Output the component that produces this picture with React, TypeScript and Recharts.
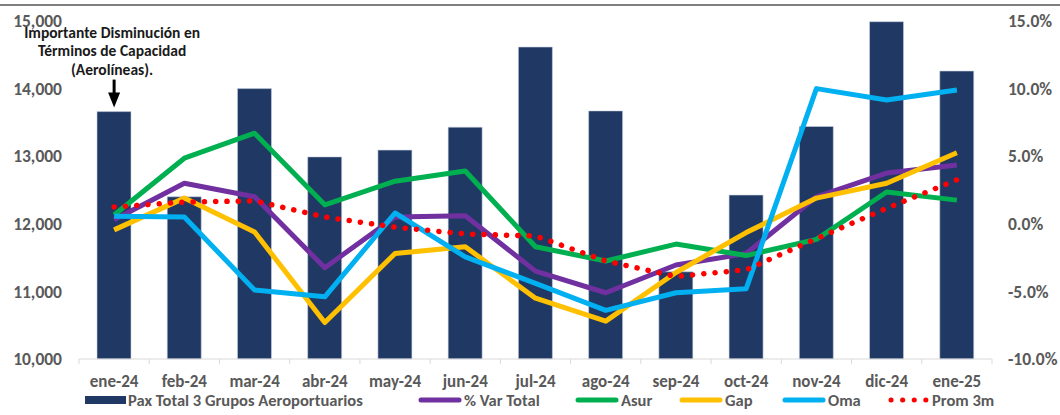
import React from "react";
import { ComposedChart, Bar, Line, XAxis, YAxis, Legend, ReferenceDot } from "recharts";

const months = ["ene-24", "feb-24", "mar-24", "abr-24", "may-24", "jun-24", "jul-24", "ago-24", "sep-24", "oct-24", "nov-24", "dic-24", "ene-25"];
const paxTotal = [13660, 12400, 14000, 12990, 13090, 13430, 14615, 13670, 11290, 12425, 13440, 14990, 14260];
const varTotal = [0.3, 3.0, 2.0, -3.25, 0.5, 0.6, -3.5, -5.1, -3.05, -2.2, 2.0, 3.75, 4.35];
const asur = [0.65, 4.85, 6.7, 1.4, 3.15, 3.9, -1.7, -2.75, -1.5, -2.35, -1.15, 2.35, 1.75];
const gap = [-0.45, 1.9, -0.6, -7.3, -2.2, -1.7, -5.5, -7.2, -3.6, -0.65, 1.9, 3.0, 5.25];
const oma = [0.55, 0.5, -4.9, -5.4, 0.8, -2.45, -4.4, -6.4, -5.1, -4.8, 10.0, 9.15, 9.9];
const prom3m = [1.25, 1.6, 1.7, 0.5, -0.25, -0.75, -0.9, -2.75, -3.9, -3.4, -1.1, 1.15, 3.25];

const leftTicks = [10000, 11000, 12000, 13000, 14000, 15000];
const rightTicks = [-10, -5, 0, 5, 10, 15];
const annotationLines = ["Importante Disminución en", "Términos de Capacidad", "(Aerolíneas)."];

const data = months.map((m, i) => ({
    month: m,
    pax: paxTotal[i],
    total: varTotal[i],
    asur: asur[i],
    gap: gap[i],
    oma: oma[i],
    prom: prom3m[i],
}));

const FONT = "Carlito, Calibri, 'Liberation Sans', Arial, sans-serif";
const AXIS_COLOR = "#595959";
const FS = 17.5;
const LEGEND_FS = 16.5;

// legend layout (left px of each item, swatch kind)
const legendItems = [
    { label: "Pax Total 3 Grupos Aeroportuarios", color: "#203864", kind: "bar", left: 85 },
    { label: "% Var Total", color: "#7030A0", kind: "line", left: 418 },
    { label: "Asur", color: "#00B050", kind: "line", left: 575 },
    { label: "Gap", color: "#FFC000", kind: "line", left: 679 },
    { label: "Oma", color: "#00B0F0", kind: "line", left: 782 },
    { label: "Prom 3m", color: "#FF0000", kind: "dots", left: 888 },
];

function Swatch({ kind, color }: { kind: string; color: string }) {
    if (kind === "bar") return <svg width={41} height={10}><rect x={0} y={1} width={41} height={8} fill={color} /></svg>;
    if (kind === "dots")
        return (
            <svg width={42} height={10}>
                <line x1={3} y1={5} x2={40} y2={5} stroke={color} strokeWidth={5} strokeLinecap="round" strokeDasharray="0.1 11.5" />
            </svg>
        );
    return (
        <svg width={44} height={10}>
            <line x1={3} y1={5} x2={41} y2={5} stroke={color} strokeWidth={5} strokeLinecap="round" />
        </svg>
    );
}

function renderLegend() {
    return (
        <div style={{ position: "relative", height: 18, fontFamily: FONT, fontSize: LEGEND_FS, lineHeight: "18px", fontWeight: 700, color: AXIS_COLOR }}>
            {legendItems.map((it) => (
                <div key={it.label} style={{ position: "absolute", left: it.left, top: 0, height: 18, display: "flex", alignItems: "center", gap: 2, whiteSpace: "nowrap" }}>
                    <Swatch kind={it.kind} color={it.color} />
                    <span>{it.label}</span>
                </div>
            ))}
        </div>
    );
}

function MonthTick(props: any) {
    const { x, y, payload, index } = props;
    const half = payload.offset ?? 35;
    return (
        <g>
            <line x1={x - half} y1={y} x2={x - half} y2={y + 5} stroke="#d9d9d9" />
            {index === months.length - 1 && <line x1={x + half} y1={y} x2={x + half} y2={y + 5} stroke="#d9d9d9" />}
            <text x={x} y={y + 28} textAnchor="middle" fill={AXIS_COLOR} fontSize={17} fontWeight={700} fontFamily={FONT}>
                {payload.value}
            </text>
        </g>
    );
}

function Annotation(props: any) {
    const { cx, cy } = props;
    return (
        <g>
            {annotationLines.map((t, i) => (
                <text key={t} x={cx - 2} y={cy - 74 + i * 18.5} textAnchor="middle" fill="#1a1a1a" fontSize={15.5} fontWeight={700} fontFamily={FONT}>
                    {t}
                </text>
            ))}
            <line x1={cx} y1={cy - 32} x2={cx} y2={cy - 17} stroke="#000" strokeWidth={3} />
            <path d={`M${cx - 6},${cy - 19} L${cx + 6},${cy - 19} L${cx},${cy - 4} Z`} fill="#000" />
        </g>
    );
}

export default function App() {
    return (
        <div style={{ position: "absolute", left: 0, top: 0, width: 1060, height: 415, background: "#fff", fontFamily: FONT, overflow: "hidden" }}>
            <div style={{ position: "absolute", left: 0, top: 4, width: 1060, height: 2, background: "#7f7f7f" }} />
            <ComposedChart width={1060} height={415} data={data} margin={{ top: 21, right: 0, left: 0, bottom: 0 }} barSize={34}>
                <XAxis
                    dataKey="month"
                    xAxisId="x"
                    height={38}
                    tickSize={0}
                    tickMargin={0}
                    tickLine={false}
                    axisLine={{ stroke: "#d9d9d9" }}
                    interval={0}
                    tick={<MonthTick />}
                />
                <YAxis
                    yAxisId="left"
                    width={79}
                    domain={[10000, 15000]}
                    ticks={leftTicks}
                    tickFormatter={(v: number) => v.toLocaleString("en-US")}
                    axisLine={false}
                    tickLine={false}
                    tickMargin={11}
                    tick={{ fill: AXIS_COLOR, fontSize: FS, fontWeight: 700, fontFamily: FONT }}
                />
                <YAxis
                    yAxisId="right"
                    orientation="right"
                    width={68}
                    domain={[-10, 15]}
                    ticks={rightTicks}
                    tickFormatter={(v: number) => `${v.toFixed(1)}%`}
                    axisLine={false}
                    tickLine={false}
                    tickMargin={10}
                    tick={{ fill: AXIS_COLOR, fontSize: FS, fontWeight: 700, fontFamily: FONT, textAnchor: "start" }}
                />
                <Legend verticalAlign="bottom" content={renderLegend} wrapperStyle={{ top: 391, bottom: "auto", left: 0, width: 1060, height: 18 }} />
                <Bar xAxisId="x" yAxisId="left" dataKey="pax" name="Pax Total 3 Grupos Aeroportuarios" fill="#203864" stroke="#c9d1e0" strokeWidth={0.6} isAnimationActive={false} />
                <Line xAxisId="x" yAxisId="right" dataKey="total" name="% Var Total" stroke="#7030A0" strokeWidth={5} dot={false} strokeLinejoin="round" isAnimationActive={false} />
                <Line xAxisId="x" yAxisId="right" dataKey="asur" name="Asur" stroke="#00B050" strokeWidth={5} dot={false} strokeLinejoin="round" isAnimationActive={false} />
                <Line xAxisId="x" yAxisId="right" dataKey="gap" name="Gap" stroke="#FFC000" strokeWidth={5} dot={false} strokeLinejoin="round" isAnimationActive={false} />
                <Line xAxisId="x" yAxisId="right" dataKey="oma" name="Oma" stroke="#00B0F0" strokeWidth={5} dot={false} strokeLinejoin="round" isAnimationActive={false} />
                <Line xAxisId="x" yAxisId="right" dataKey="prom" name="Prom 3m" stroke="#FF0000" strokeWidth={5.5} strokeLinecap="round" strokeDasharray="0.1 11.2" dot={false} isAnimationActive={false} />
                <ReferenceDot xAxisId="x" yAxisId="left" x={months[0]} y={paxTotal[0]} shape={<Annotation />} />
            </ComposedChart>
        </div>
    );
}
